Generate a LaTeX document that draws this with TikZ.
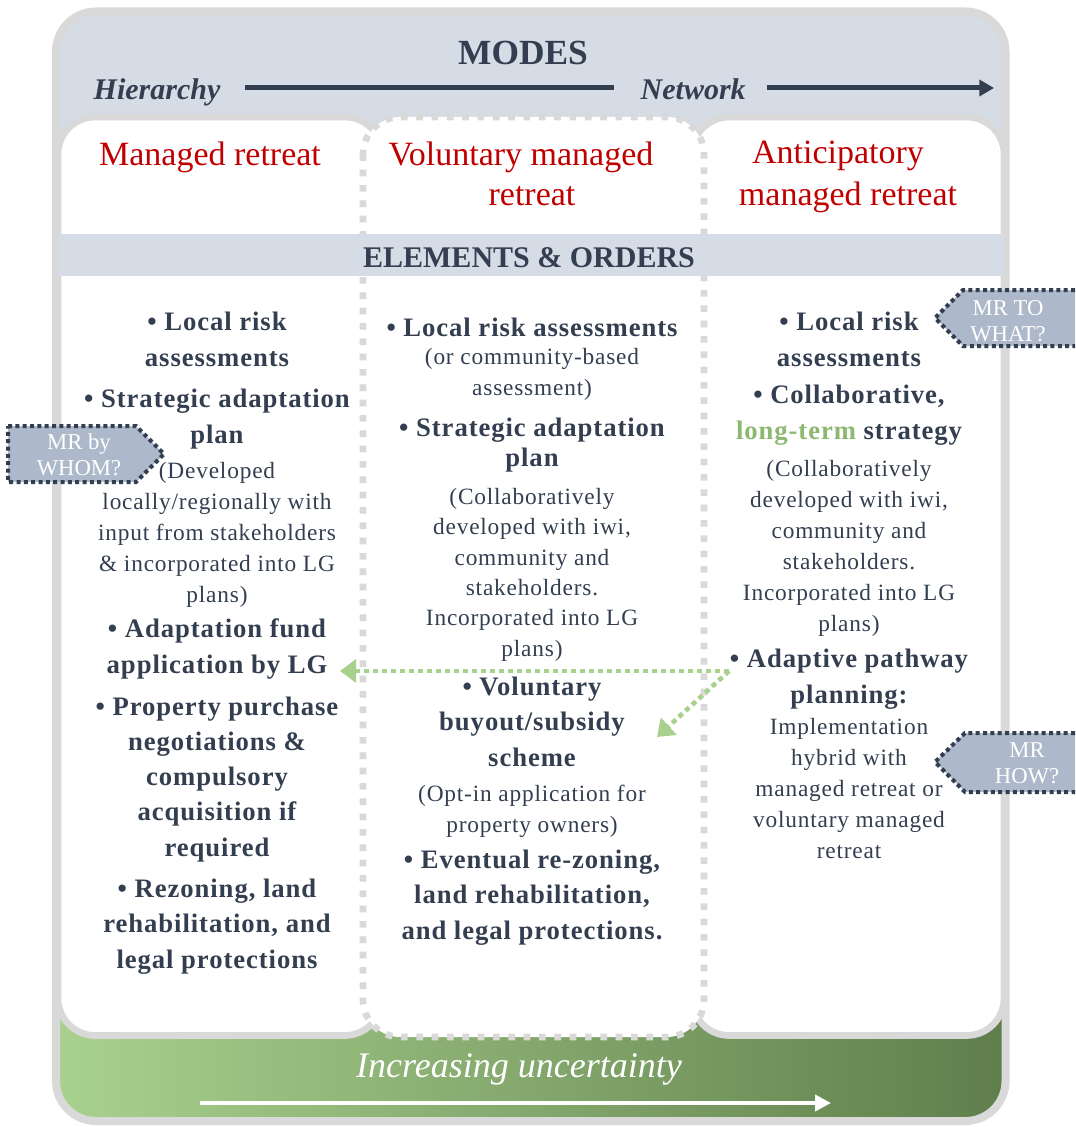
\documentclass[tikz,border=0pt]{standalone}
\usepackage{fontspec}
\setmainfont{Liberation Serif}
\newfontfamily\bodyfont[LetterSpace=3.5]{Liberation Serif}
\usetikzlibrary{arrows.meta}

\definecolor{inkblue}{HTML}{333F50}
\definecolor{paleblue}{HTML}{D6DCE5}
\definecolor{rimgray}{HTML}{D9D9D9}
\definecolor{modered}{HTML}{C00000}
\definecolor{tagblue}{HTML}{ADB9CA}
\definecolor{leafl}{HTML}{A9D18E}
\definecolor{leafd}{HTML}{5F7E4C}
\definecolor{ltgreen}{HTML}{8CB870}

\begin{document}
\begin{tikzpicture}[x=0.75pt, y=-0.75pt,
  leadtxt/.style={anchor=base, align=center, inner sep=0pt, text=inkblue,
    font=\bodyfont\bfseries\fontsize{20}{26.3}\selectfont},
  notetxt/.style={anchor=base, align=center, inner sep=0pt, text=inkblue,
    font=\bodyfont\fontsize{17.5}{23.2}\selectfont},
  headtxt/.style={anchor=mid, inner sep=0pt, text=modered, font=\fontsize{25.5}{30}\selectfont},
  colbox/.style={fill=white, draw=rimgray, line width=5pt, rounded corners=28pt},
  tagbox/.style={fill=tagblue, draw=inkblue, line width=3pt, dash pattern=on 3pt off 2.5pt},
  tagtxt/.style={align=center, inner sep=0pt, text=white, font=\fontsize{17}{19.5}\selectfont},
  modeline/.style={draw=inkblue, line width=3.75pt},
  hint/.style={draw=leafl, line width=3.5pt, dash pattern=on 3.75pt off 3pt,
    -{Triangle[length=12pt, width=17pt, fill=leafl]}}]
  \useasboundingbox (0,0) rectangle (1075,1127);

  % 外框：上部浅蓝，下部绿色渐变
  \begin{scope}
    \clip[rounded corners=30pt] (56,11.5) rectangle (1005.5,1121);
    \shade[left color=leafl, right color=leafd] (56,560) rectangle (1005.5,1121);
    \fill[paleblue] (56,11.5) rectangle (1005.5,560);
  \end{scope}
  \draw[rimgray, line width=6pt, rounded corners=30pt] (56,11.5) rectangle (1005.5,1121);

  % 三栏
  \draw[colbox] (58,117) rectangle (382,1035.5);
  \draw[colbox] (692,117) rectangle (1004,1035.5);
  \draw[colbox, dash pattern=on 5pt off 6.5pt] (363,117) rectangle (704,1037);
  \fill[paleblue] (58,234) rectangle (1004,276);

  % 顶部：MODES
  \node[anchor=base, text=inkblue, font=\bfseries\fontsize{26.5}{30}\selectfont] (modes) at (523,65) {MODES};
  \node[anchor=base west, text=inkblue, font=\bfseries\itshape\fontsize{22.5}{27}\selectfont] (hier) at (89,100) {Hierarchy};
  \node[anchor=base west, text=inkblue, font=\bfseries\itshape\fontsize{22.5}{27}\selectfont] (netw) at (636,100) {Network};
  \coordinate (m1) at (245,88);
  \coordinate (m2) at (614,88);
  \coordinate (m3) at (767,88);
  \coordinate (m4) at (994,88);
  \draw[modeline] (m1) -- (m2);
  \draw[modeline, -{Triangle[length=11pt, width=12pt]}] (m3) -- (m4);

  % 栏标题
  \node[headtxt] (h1) at (210,162) {Managed retreat};
  \node[headtxt] (h2a) at (521,162) {Voluntary managed};
  \node[headtxt] (h2b) at (532,202) {retreat};
  \node[headtxt] (h3a) at (838,160) {Anticipatory};
  \node[headtxt] (h3b) at (848,202) {managed retreat};
  \node[anchor=base, text=inkblue, font=\bfseries\fontsize{22.5}{27}\selectfont] (elem) at (529,267) {ELEMENTS \& ORDERS};

  % 左栏（坐标为末行基线）
  \node[leadtxt] (l1) at (217,366) {\textbullet\ Local risk\\assessments};
  \node[leadtxt] (l2) at (217,443) {\textbullet\ Strategic adaptation\\plan};
  \node[notetxt] (l2n) at (217,602) {(Developed\\locally/regionally with\\input from stakeholders\\\& incorporated into LG\\plans)};
  \node[leadtxt] (l3) at (217,673) {\textbullet\ Adaptation fund\\application by LG};
  \node[leadtxt] (l4) at (217,856) {\textbullet\ Property purchase\\negotiations \&\\compulsory\\acquisition if\\required};
  \node[leadtxt] (l5) at (217,968) {\textbullet\ Rezoning, land\\rehabilitation, and\\legal protections};

  % 中栏
  \node[leadtxt] (c1) at (532,336) {\textbullet\ Local risk assessments};
  \node[notetxt] (c1n) at (532,395) {(or community-based\\assessment)};
  \node[leadtxt] (c2) at (532,466) {\textbullet\ Strategic adaptation\\[-4.5pt]plan};
  \node[notetxt] (c2n) at (532,656) {(Collaboratively\\[-0.5pt]developed with iwi,\\[-0.5pt]community and\\[-0.5pt]stakeholders.\\[-0.5pt]Incorporated into LG\\[-0.5pt]plans)};
  \node[leadtxt] (c3) at (532,766) {\textbullet\ Voluntary\\buyout/subsidy\\scheme};
  \node[notetxt] (c3n) at (532,832) {(Opt-in application for\\property owners)};
  \node[leadtxt] (c4) at (532,939) {\textbullet\ Eventual re-zoning,\\land rehabilitation,\\and legal protections.};

  % 右栏
  \node[leadtxt] (r1) at (849,366) {\textbullet\ Local risk\\assessments};
  \node[leadtxt] (r2) at (849,439) {\textbullet\ Collaborative,\\{\color{ltgreen}long-term} strategy};
  \node[notetxt] (r2n) at (849,631) {(Collaboratively\\developed with iwi,\\community and\\stakeholders.\\Incorporated into LG\\plans)};
  \node[leadtxt] (r3) at (849,703) {\textbullet\ Adaptive pathway\\planning:};
  \node[notetxt] (r3n) at (849,858) {Implementation\\hybrid with\\managed retreat or\\voluntary managed\\retreat};

  % 标签
  \draw[tagbox] (8,426) -- (136,426) -- (164,454) -- (136,482) -- (8,482) -- cycle;
  \node[tagtxt] (whom) at (79,455) {MR by\\WHOM?};
  \draw[tagbox] (1075,290) -- (963,290) -- (935,318) -- (963,346) -- (1075,346);
  \node[tagtxt] (what) at (1008,321) {MR TO\\WHAT?};
  \draw[tagbox] (1075,733) -- (965,733) -- (935,762) -- (965,792) -- (1075,792);
  \node[tagtxt] (how) at (1027,763) {MR\\HOW?};

  % 绿色虚线箭头
  \coordinate (fork) at (729,671);
  \coordinate (tipL) at (340,671);
  \coordinate (tipM) at (657,737);
  \draw[hint] (fork) -- (tipL);
  \draw[hint] (fork) -- (tipM);

  % 底部
  \node[anchor=base, text=white, font=\itshape\fontsize{27}{32}\selectfont] (unc) at (519,1077) {Increasing uncertainty};
  \coordinate (u1) at (200,1103);
  \coordinate (u2) at (831,1103);
  \draw[draw=white, line width=3.5pt, -{Triangle[length=12pt, width=12pt]}] (u1) -- (u2);
\end{tikzpicture}
\end{document}
